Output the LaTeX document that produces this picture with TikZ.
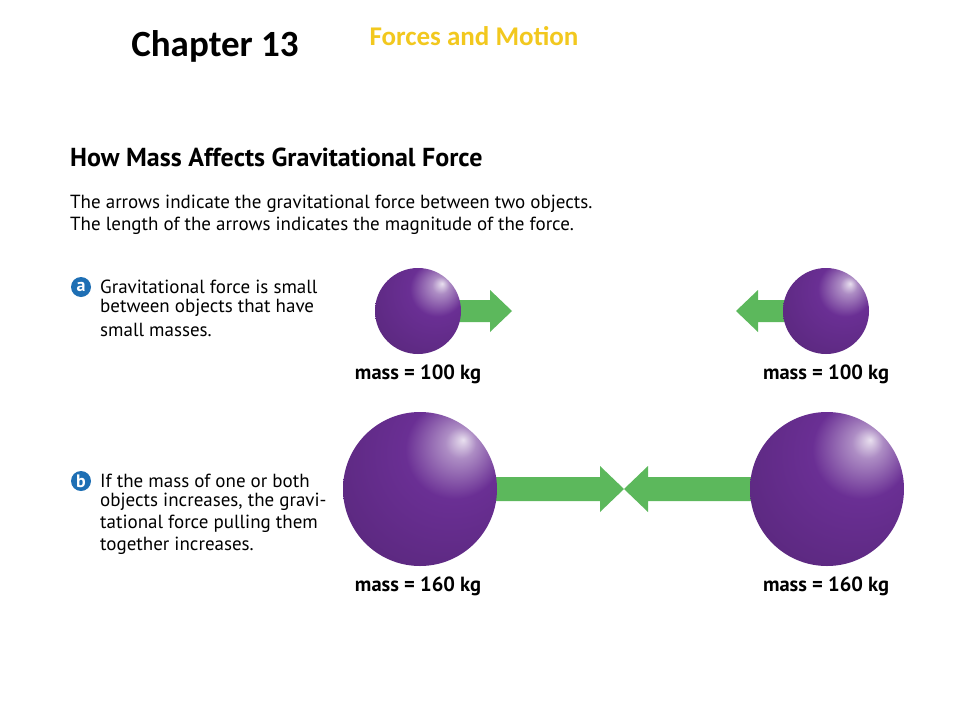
\documentclass[tikz,border=0pt]{standalone}
\usepackage{fontspec}
\setmainfont{PT Sans}
\newfontfamily\carlito{Carlito}
\definecolor{grn}{HTML}{5CB85C}
\definecolor{badge}{HTML}{1E6FB4}
\definecolor{yel}{HTML}{F2C81E}
\definecolor{sv}{HTML}{6A2F94}
\pgfdeclareradialshading{sph}{\pgfpoint{14bp}{16bp}}{color(0bp)=(white!85!sv);color(5bp)=(white!45!sv);color(16bp)=(sv);color(40bp)=(sv!85!black);color(66bp)=(sv!60!black);color(80bp)=(sv!50!black)}
\tikzset{
 ball/.style={shading=sph},
 body/.style={anchor=west,font=\fontsize{19}{22}\selectfont,inner sep=0},
 masslbl/.style={font=\bfseries\fontsize{20.5}{24}\selectfont,inner sep=0},
 badgec/.style={circle,fill=badge,text=white,inner sep=0,minimum size=20pt,font=\bfseries\fontsize{18}{18}\selectfont},
 arr/.style={fill=grn,draw=none}
}
\begin{document}
\begin{tikzpicture}[x=1pt,y=-1pt]
\useasboundingbox[fill=white] (0,0) rectangle (960,720);
\node (ch) at (215,46) {\carlito\bfseries\fontsize{37}{40}\selectfont Chapter 13};
\node (fm) at (474,36) {\carlito\bfseries\color{yel}\fontsize{27}{30}\selectfont Forces and Motion};
\node[anchor=west,inner sep=0] (title) at (70,157) {\bfseries\fontsize{26}{30}\selectfont How Mass Affects Gravitational Force};
\node[body] (i1) at (70,204) {The arrows indicate the gravitational force between two objects.};
\node[body] (i2) at (70,226) {The length of the arrows indicates the magnitude of the force.};
\node[badgec] (ba) at (81,287) {a};
\node[body] (a1) at (100,287) {Gravitational force is small};
\node[body] (a2) at (100,308) {between objects that have};
\node[body] (a3) at (100,330) {small masses.};
\node[badgec] (bb) at (81,481) {b};
\node[body] (b1) at (100,481) {If the mass of one or both};
\node[body] (b2) at (100,502) {objects increases, the gravi-};
\node[body] (b3) at (100,524) {tational force pulling them};
\node[body] (b4) at (100,546) {together increases.};
% small arrows
\fill[arr] (455,300) -- (490,300) -- (490,290) -- (512,311) -- (490,332) -- (490,322) -- (455,322) -- cycle;
\fill[arr] (790,300) -- (758,300) -- (758,290) -- (736,311) -- (758,332) -- (758,322) -- (790,322) -- cycle;
% big arrows
\fill[arr] (490,477) -- (600,477) -- (600,466) -- (624,489) -- (600,512) -- (600,501) -- (490,501) -- cycle;
\fill[arr] (758,477) -- (648,477) -- (648,466) -- (624,489) -- (648,512) -- (648,501) -- (758,501) -- cycle;
% spheres
\shade[ball] (418,311) circle (43);
\shade[ball] (826,311) circle (43);
\shade[ball] (420,489) circle (77);
\shade[ball] (827,489) circle (77);
\node[masslbl] (m1) at (418,374) {mass = 100 kg};
\node[masslbl] (m2) at (826,374) {mass = 100 kg};
\node[masslbl] (m3) at (418,586) {mass = 160 kg};
\node[masslbl] (m4) at (826,586) {mass = 160 kg};
\end{tikzpicture}
\end{document}
